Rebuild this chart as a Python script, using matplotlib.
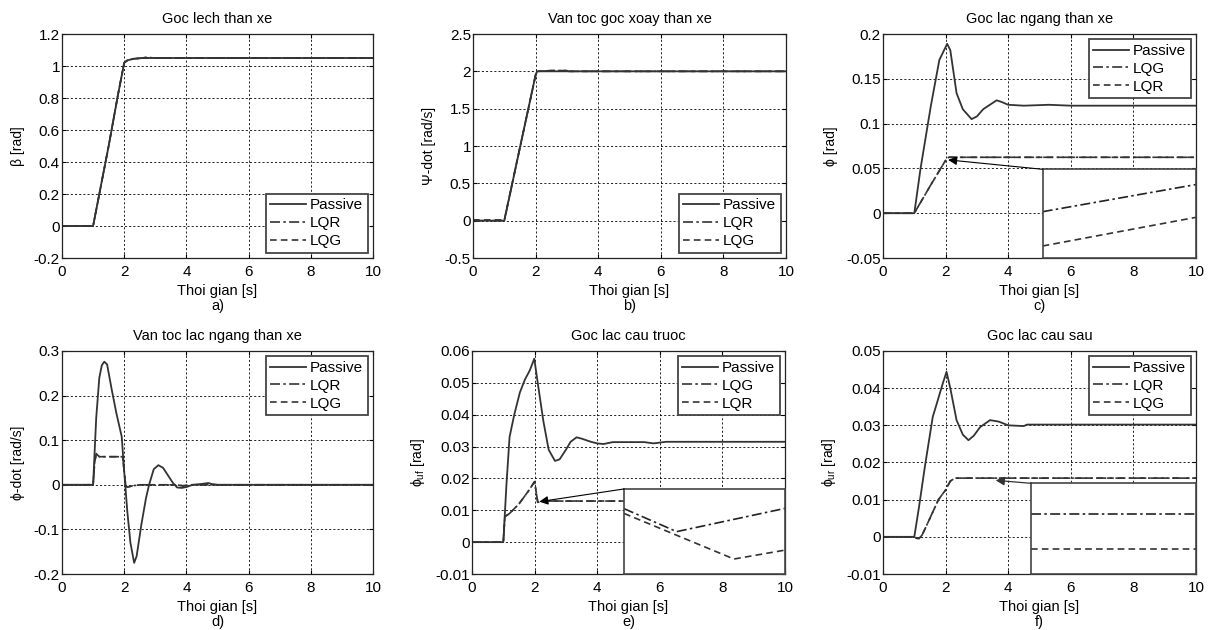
import numpy as np
import matplotlib
matplotlib.use("Agg")
import matplotlib.pyplot as plt
from matplotlib.ticker import FuncFormatter

plt.rcParams['font.family'] = ['Liberation Sans', 'DejaVu Sans']
plt.rcParams['mathtext.fontset'] = 'custom'
plt.rcParams['mathtext.rm'] = 'Liberation Sans'
plt.rcParams['mathtext.it'] = 'Liberation Sans'

# ---- data ----
# a) Goc lech than xe
t_a = [0, 1.0, 1.2, 1.5, 1.8, 2.0, 2.1, 2.3, 2.6, 2.7, 3.0, 10]
passive_a = [0, 0, 0.2, 0.5, 0.82, 1.02, 1.035, 1.045, 1.05, 1.05, 1.05, 1.05]
lqr_a = [0, 0, 0.2, 0.5, 0.82, 1.02, 1.035, 1.045, 1.05, 1.055, 1.05, 1.05]
lqg_a = [0, 0, 0.2, 0.5, 0.82, 1.02, 1.035, 1.045, 1.05, 1.05, 1.05, 1.05]

# b) Van toc goc xoay than xe
t_b = [0, 1.0, 1.5, 2.0, 2.05, 2.5, 3.0, 3.05, 10]
passive_b = [0, 0, 0.98, 1.95, 2.0, 2.0, 2.0, 2.0, 2.0]
lqr_b = [0, 0, 0.98, 1.95, 2.0, 2.01, 2.01, 2.0, 2.0]
lqg_b = [0.01, 0.01, 0.98, 1.95, 2.0, 2.01, 2.01, 2.0, 2.0]

# c) Goc lac ngang than xe
t_c = [0, 1.0, 1.2, 1.53, 1.8, 2.05, 2.15, 2.35, 2.55, 2.83, 3.0, 3.2, 3.63, 3.8, 4.0, 4.5, 5.3, 6.0, 10]
passive_c = [0, 0, 0.05, 0.12, 0.171, 0.189, 0.182, 0.134, 0.116, 0.105, 0.108, 0.116, 0.126, 0.124, 0.121, 0.12, 0.121, 0.12, 0.12]
t_c_ctrl = [0, 1.0, 1.5, 2.0, 2.1, 2.3, 10]
lqg_c = [0, 0, 0.03, 0.059, 0.0625, 0.0624, 0.0624]
lqr_c = [0, 0, 0.03, 0.059, 0.0625, 0.0624, 0.0624]
zoom_t_c = [5.1, 10]
zoom_lqg_c = [0.0017, 0.032]
zoom_lqr_c = [-0.0366, -0.0046]

# d) Van toc lac ngang than xe
t_d = [0, 1.0, 1.1, 1.2, 1.28, 1.36, 1.45, 1.6, 1.75, 1.92, 2.0, 2.1, 2.2, 2.32, 2.4, 2.55, 2.7, 2.8,
       2.95, 3.1, 3.25, 3.4, 3.57, 3.7, 3.85, 4.0, 4.2, 4.5, 4.7, 4.8, 5.0, 10]
passive_d = [0, 0, 0.15, 0.24, 0.268, 0.276, 0.27, 0.213, 0.16, 0.108, 0.03, -0.06, -0.13, -0.175, -0.16, -0.09,
             -0.03, 0.0, 0.035, 0.044, 0.038, 0.022, 0.004, -0.006, -0.007, -0.005, 0.0, 0.002, 0.004, 0.002, 0.0, 0.0]
t_d_ctrl = [0, 1.0, 1.05, 1.1, 1.2, 1.95, 2.0, 2.05, 2.1, 2.3, 2.5, 3.7, 3.9, 4.1, 10]
lqr_d = [0, 0, 0.05, 0.07, 0.063, 0.063, 0.03, -0.003, -0.005, -0.002, 0.0, 0.0, -0.003, 0.0, 0.0]
lqg_d = [0, 0, 0.05, 0.068, 0.063, 0.063, 0.03, -0.003, -0.005, -0.002, 0.0, 0.0, -0.002, 0.0, 0.0]

# e) Goc lac cau truoc
t_e = [0, 1.0, 1.1, 1.2, 1.35, 1.53, 1.69, 1.85, 1.99, 2.1, 2.28, 2.45, 2.65, 2.8, 3.0, 3.15, 3.34,
       3.5, 3.8, 4.0, 4.2, 4.5, 5.5, 5.8, 6.2, 10]
passive_e = [0, 0, 0.018, 0.033, 0.04, 0.047, 0.051, 0.054, 0.0576, 0.05, 0.038, 0.029, 0.0255, 0.026,
             0.029, 0.0315, 0.0329, 0.0325, 0.0315, 0.031, 0.0308, 0.0314, 0.0314, 0.031, 0.0315, 0.0315]
t_e_ctrl = [0, 1.0, 1.05, 1.2, 1.5, 1.8, 2.0, 2.1, 2.3, 10]
lqg_e = [0, 0, 0.008, 0.009, 0.012, 0.016, 0.019, 0.0125, 0.0129, 0.0129]
lqr_e = [0, 0, 0.008, 0.009, 0.012, 0.016, 0.019, 0.0125, 0.0129, 0.0129]
zoom_t_e_lqg = [4.86, 6.54, 10]
zoom_lqg_e = [0.0105, 0.0033, 0.0106]
zoom_t_e_lqr = [4.86, 8.37, 10]
zoom_lqr_e = [0.0090, -0.0053, -0.0025]

# f) Goc lac cau sau
t_f = [0, 1.0, 1.15, 1.34, 1.59, 1.72, 1.9, 2.03, 2.15, 2.35, 2.55, 2.73, 2.9, 3.1, 3.42, 3.7, 4.0, 4.5, 4.6, 10]
passive_f = [0, 0, 0.008, 0.019, 0.0323, 0.0359, 0.041, 0.0444, 0.040, 0.0314, 0.0275, 0.026, 0.0272,
             0.0295, 0.0314, 0.031, 0.030, 0.0298, 0.0302, 0.0302]
t_f_ctrl = [0, 1.0, 1.08, 1.15, 1.25, 1.5, 1.77, 2.0, 2.15, 2.3, 10]
lqr_f = [0, 0, -0.0004, -0.0005, 0.0005, 0.005, 0.010, 0.0126, 0.0150, 0.0158, 0.0158]
lqg_f = [0, 0, -0.0004, -0.0005, 0.0005, 0.005, 0.010, 0.0126, 0.0150, 0.0158, 0.0158]
zoom_t_f = [4.73, 10]
zoom_lqr_f = [0.0062, 0.0062]
zoom_lqg_f = [-0.0034, -0.0034]

LC = '#333333'
SOLID = '-'
DASHDOT = (0, (6, 2, 1.5, 2))
DASHED = (0, (4, 2.5))

fig = plt.figure(figsize=(12.09, 6.3), dpi=100)
W, H = 1209.0, 630.0


def make_ax(left, top, right, bottom):
    return fig.add_axes([left / W, 1 - bottom / H, (right - left) / W, (bottom - top) / H])


def style(ax, title, ylabel, ylim, ystep, sub):
    ax.set_xlim(0, 10)
    ax.set_ylim(*ylim)
    ax.set_xticks(np.arange(0, 11, 2))
    ax.set_yticks(np.round(np.arange(ylim[0], ylim[1] + ystep / 2, ystep), 4))
    ax.yaxis.set_major_formatter(FuncFormatter(lambda v, p: '%g' % round(v, 4) if abs(v) > 1e-9 else '0'))
    ax.grid(True, color='black', linestyle=(0, (2.5, 2.5)), linewidth=0.6)
    ax.tick_params(direction='in', top=True, right=True, labelsize=11, length=3)
    ax.tick_params(axis='x', pad=5)
    ax.tick_params(axis='y', pad=1.5)
    for s in ax.spines.values():
        s.set_color('#222222')
        s.set_linewidth(0.9)
    ax.set_title(title, fontsize=10.5, pad=8)
    ax.set_xlabel('Thoi gian [s]', fontsize=10.5, labelpad=4)
    ax.set_ylabel(ylabel, fontsize=10, labelpad=6)
    ax.text(0.5, -0.215, sub, transform=ax.transAxes, ha='center', va='center', fontsize=10.5)


def legend(ax, names, loc):
    leg = ax.legend(names, loc=loc, fontsize=11, handlelength=2.35, handletextpad=0.25,
                    borderaxespad=0.35, fancybox=False, framealpha=1, borderpad=0.3,
                    labelspacing=0.25)
    leg.get_frame().set_edgecolor('#444444')
    leg.get_frame().set_linewidth(1.3)


def zoom_box(ax, x0, x1, y0, y1):
    ins = ax.inset_axes([x0, y0, x1 - x0, y1 - y0], transform=ax.transData, zorder=5)
    ins.set_xlim(x0, x1)
    ins.set_ylim(y0, y1)
    ins.set_xticks([])
    ins.set_yticks([])
    for s in ins.spines.values():
        s.set_color('#444444')
        s.set_linewidth(1.2)
    return ins


# a
ax = make_ax(62, 34, 373, 258)
ax.plot(t_a, passive_a, color=LC, lw=1.3, ls=SOLID)
ax.plot(t_a, lqr_a, color=LC, lw=1.2, ls=DASHDOT)
ax.plot(t_a, lqg_a, color=LC, lw=1.2, ls=DASHED)
style(ax, 'Goc lech than xe', 'β [rad]', (-0.2, 1.2), 0.2, 'a)')
legend(ax, ['Passive', 'LQR', 'LQG'], 'lower right')

# b
ax = make_ax(473, 34, 786, 258)
ax.plot(t_b, passive_b, color=LC, lw=1.3, ls=SOLID)
ax.plot(t_b, lqr_b, color=LC, lw=1.2, ls=DASHDOT)
ax.plot(t_b, lqg_b, color=LC, lw=1.2, ls=DASHED)
style(ax, 'Van toc goc xoay than xe', 'Ψ-dot [rad/s]', (-0.5, 2.5), 0.5, 'b)')
legend(ax, ['Passive', 'LQR', 'LQG'], 'lower right')

# c
ax = make_ax(883, 34, 1196, 258)
ax.plot(t_c, passive_c, color=LC, lw=1.3, ls=SOLID)
ax.plot(t_c_ctrl, lqg_c, color=LC, lw=1.2, ls=DASHDOT)
ax.plot(t_c_ctrl, lqr_c, color=LC, lw=1.2, ls=DASHED)
style(ax, 'Goc lac ngang than xe', 'ϕ [rad]', (-0.05, 0.2), 0.05, 'c)')
legend(ax, ['Passive', 'LQG', 'LQR'], 'upper right')
ins = zoom_box(ax, 5.1, 10, -0.05, 0.049)
ins.plot(zoom_t_c, zoom_lqg_c, color='#222222', lw=1.2, ls=DASHDOT)
ins.plot(zoom_t_c, zoom_lqr_c, color=LC, lw=1.2, ls=DASHED)
ax.annotate('', xy=(2.08, 0.0595), xytext=(5.1, 0.049),
            arrowprops=dict(arrowstyle='-|>', color='black', lw=0.8, mutation_scale=13,
                            shrinkA=0, shrinkB=0), zorder=6)

# d
ax = make_ax(62, 351, 373, 574)
ax.plot(t_d, passive_d, color=LC, lw=1.3, ls=SOLID)
ax.plot(t_d_ctrl, lqr_d, color=LC, lw=1.2, ls=DASHDOT)
ax.plot(t_d_ctrl, lqg_d, color=LC, lw=1.2, ls=DASHED)
style(ax, 'Van toc lac ngang than xe', 'ϕ-dot [rad/s]', (-0.2, 0.3), 0.1, 'd)')
legend(ax, ['Passive', 'LQR', 'LQG'], 'upper right')

# e
ax = make_ax(472, 351, 785, 574)
ax.plot(t_e, passive_e, color=LC, lw=1.3, ls=SOLID)
ax.plot(t_e_ctrl, lqg_e, color=LC, lw=1.2, ls=DASHDOT)
ax.plot(t_e_ctrl, lqr_e, color=LC, lw=1.2, ls=DASHED)
style(ax, 'Goc lac cau truoc', 'ϕ$_{\\rm uf}$ [rad]', (-0.01, 0.06), 0.01, 'e)')
legend(ax, ['Passive', 'LQG', 'LQR'], 'upper right')
ins = zoom_box(ax, 4.86, 10, -0.01, 0.0167)
ins.plot(zoom_t_e_lqg, zoom_lqg_e, color='#222222', lw=1.2, ls=DASHDOT)
ins.plot(zoom_t_e_lqr, zoom_lqr_e, color=LC, lw=1.2, ls=DASHED)
ax.annotate('', xy=(2.15, 0.0127), xytext=(4.86, 0.0167),
            arrowprops=dict(arrowstyle='-|>', color='black', lw=0.8, mutation_scale=13,
                            shrinkA=0, shrinkB=0), zorder=6)

# f
ax = make_ax(883, 351, 1196, 574)
ax.plot(t_f, passive_f, color=LC, lw=1.3, ls=SOLID)
ax.plot(t_f_ctrl, lqr_f, color=LC, lw=1.2, ls=DASHDOT)
ax.plot(t_f_ctrl, lqg_f, color=LC, lw=1.2, ls=DASHED)
style(ax, 'Goc lac cau sau', 'ϕ$_{\\rm ur}$ [rad]', (-0.01, 0.05), 0.01, 'f)')
legend(ax, ['Passive', 'LQR', 'LQG'], 'upper right')
ins = zoom_box(ax, 4.73, 10, -0.01, 0.0144)
ins.plot(zoom_t_f, zoom_lqr_f, color='#222222', lw=1.2, ls=DASHDOT)
ins.plot(zoom_t_f, zoom_lqg_f, color=LC, lw=1.2, ls=DASHED)
ax.annotate('', xy=(3.6, 0.0152), xytext=(4.73, 0.0144),
            arrowprops=dict(arrowstyle='-|>', color='#333333', lw=0.9, mutation_scale=13,
                            shrinkA=0, shrinkB=0), zorder=6)

fig.savefig('out.png', dpi=100)
